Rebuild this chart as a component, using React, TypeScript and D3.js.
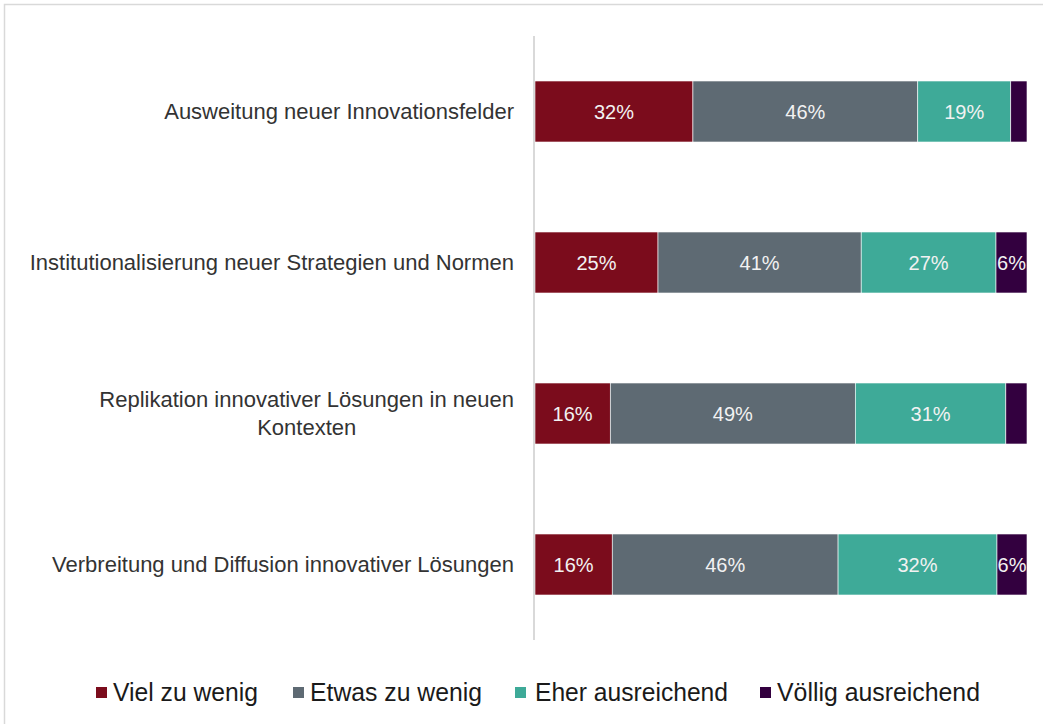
import React from "react";
import * as d3 from "d3";

const categories: string[][] = [
  ["Ausweitung neuer Innovationsfelder"],
  ["Institutionalisierung neuer Strategien und Normen"],
  ["Replikation innovativer Lösungen in neuen", "Kontexten"],
  ["Verbreitung und Diffusion innovativer Lösungen"],
];
const seriesNames = ["Viel zu wenig", "Etwas zu wenig", "Eher ausreichend", "Völlig ausreichend"];
const vielZuWenig = [32.1, 25.0, 15.3, 15.7];
const etwasZuWenig = [45.7, 41.3, 49.8, 45.9];
const eherAusreichend = [18.9, 27.4, 30.6, 32.3];
const voelligAusreichend = [3.3, 6.3, 4.3, 6.1];
const labelViel = ["32%", "25%", "16%", "16%"];
const labelEtwas = ["46%", "41%", "49%", "46%"];
const labelEher = ["19%", "27%", "31%", "32%"];
const labelVoellig = ["", "6%", "", "6%"];

const colors = ["#7b0c1c", "#5e6a73", "#3eaa98", "#33003f"];

const W = 1043;
const H = 724;
const FONT = "Arial, 'Liberation Sans', sans-serif";

function measure(text: string, size: number): number {
  if (typeof document === "undefined") return text.length * size * 0.5;
  const c = document.createElement("canvas");
  const ctx = c.getContext("2d");
  if (!ctx) return text.length * size * 0.5;
  ctx.font = `${size}px 'Liberation Sans', Arial, sans-serif`;
  return ctx.measureText(text).width;
}

export default function App() {
  const series = [vielZuWenig, etwasZuWenig, eherAusreichend, voelligAusreichend];
  const labels = [labelViel, labelEtwas, labelEher, labelVoellig];

  const x = d3.scaleLinear().domain([0, 100]).range([535, 1027]);
  const y = d3
    .scaleBand<number>()
    .domain(d3.range(categories.length))
    .range([36, 640])
    .paddingInner(0.596)
    .paddingOuter(0.298);

  const rows = categories.map((_, i) => series.map((s) => s[i]));
  const stack = d3.stack<number[]>().keys(d3.range(series.length) as any).value((d, k) => d[k as any]);
  const stacked = stack(rows as any);

  const legendSquares = [96, 293, 515, 760];
  const legendText = [113, 310, 535, 777];
  const legendWidths = [145, 172, 193, 203];
  const catSize = 22;

  return (
    <div style={{ position: "absolute", left: 0, top: 0 }}>
      <svg width={W} height={H} style={{ display: "block", background: "#fff" }}>
        <rect x={4.5} y={4.5} width={1200} height={900} fill="#fff" stroke="#d9d9d9" strokeWidth={1.5} />
        {stacked.map((layer, si) => (
          <g key={si}>
            {layer.map((d, i) => {
              const x0 = x(d[0]);
              const x1 = x(d[1]);
              const yy = y(i)!;
              const bw = y.bandwidth();
              return (
                <g key={i}>
                  <rect x={x0} y={yy} width={x1 - x0} height={bw} fill={colors[si]} stroke="#ffffff" strokeWidth={0.6} />
                  {labels[si][i] && (
                    <text
                      x={(x0 + x1) / 2}
                      y={yy + bw / 2 + 7}
                      textAnchor="middle"
                      fontFamily={FONT}
                      fontSize={20}
                      fill="#f2f2f2"
                    >
                      {labels[si][i]}
                    </text>
                  )}
                </g>
              );
            })}
          </g>
        ))}
        <line x1={534} x2={534} y1={36} y2={640} stroke="#d9d9d9" strokeWidth={2} />
        {categories.map((lines, i) => {
          const cy = y(i)! + y.bandwidth() / 2;
          const lh = 28;
          const n = lines.length;
          const maxW = d3.max(lines, (l) => measure(l, catSize)) || 0;
          return (
            <text key={i} fontFamily={FONT} fontSize={catSize} fill="#333333">
              {lines.map((ln, j) => (
                <tspan
                  key={j}
                  x={n > 1 ? 514 - maxW / 2 : 514}
                  y={cy + 7.5 + (j - (n - 1) / 2) * lh}
                  textAnchor={n > 1 ? "middle" : "end"}
                >
                  {ln}
                </tspan>
              ))}
            </text>
          );
        })}
        {seriesNames.map((nm, i) => (
          <g key={i}>
            <rect x={legendSquares[i]} y={687} width={11} height={11} fill={colors[i]} />
            <text
              x={legendText[i]}
              y={701}
              fontFamily={FONT}
              fontSize={25}
              fill="#1a1a1a"
              textLength={legendWidths[i]}
              lengthAdjust="spacingAndGlyphs"
            >
              {nm}
            </text>
          </g>
        ))}
      </svg>
    </div>
  );
}
